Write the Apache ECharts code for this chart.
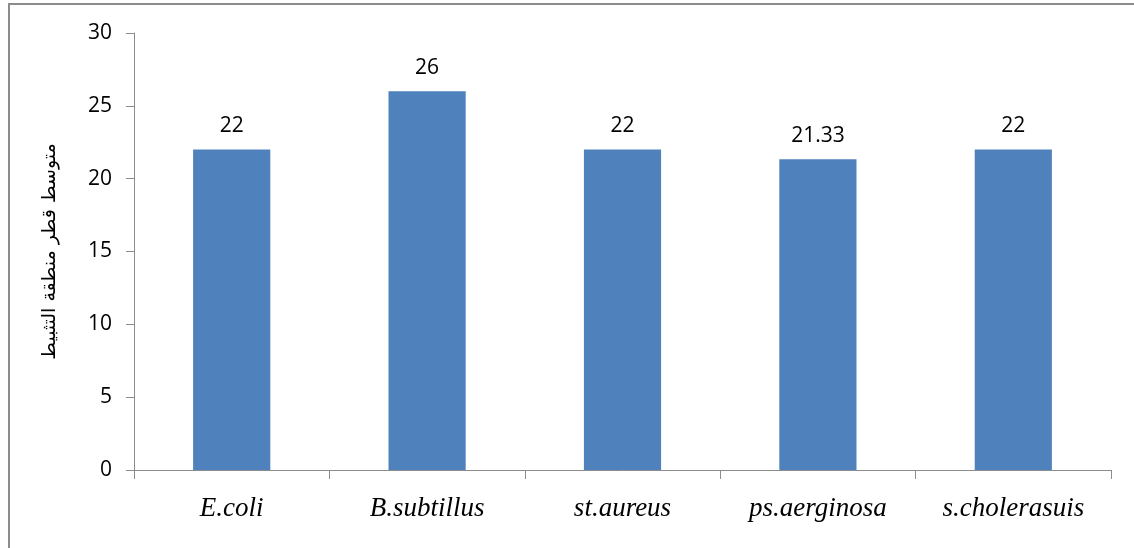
<!DOCTYPE html>
<html>
<head>
<meta charset="utf-8">
<script src="https://cdn.jsdelivr.net/npm/echarts@6/dist/echarts.min.js"></script>
<style>
  html, body { margin: 0; padding: 0; background: #fff; }
  #frame { position: absolute; left: 8px; top: 3px; width: 1140px; height: 560px; border-left: 2px solid #8c8c8c; border-top: 2px solid #8c8c8c; box-sizing: border-box; }
  #chart { position: absolute; left: 0; top: 0; width: 1134px; height: 548px; }
</style>
</head>
<body>
<div id="frame"></div>
<div id="chart"></div>
<script>
// Bacterial strains and mean inhibition-zone diameters
const categories = ['E.coli', 'B.subtillus', 'st.aureus', 'ps.aerginosa', 's.cholerasuis'];
const values = [22, 26, 22, 21.33, 22];
const yTicks = [0, 5, 10, 15, 20, 25, 30];
const yTitle = 'متوسط قطر منطقة التثبيط';

const chart = echarts.init(document.getElementById('chart'), null, { renderer: 'canvas' });
const axisGrey = '#8c8c8c';

chart.setOption({
  animation: false,
  grid: { left: 134, right: 23, top: 33, bottom: 78, containLabel: false },
  xAxis: {
    type: 'category',
    data: categories,
    boundaryGap: true,
    axisLine: { lineStyle: { color: axisGrey, width: 1 } },
    axisTick: { show: true, alignWithLabel: false, length: 9, lineStyle: { color: axisGrey } },
    axisLabel: {
      color: '#000', fontFamily: 'Liberation Serif', fontStyle: 'italic', fontSize: 27, margin: 25
    }
  },
  yAxis: {
    type: 'value',
    min: yTicks[0],
    max: yTicks[yTicks.length - 1],
    interval: 5,
    name: yTitle,
    nameLocation: 'middle',
    nameRotate: 90,
    nameGap: 74,
    nameTextStyle: { color: '#000', fontFamily: 'DejaVu Sans', fontSize: 19 },
    axisLine: { show: true, lineStyle: { color: axisGrey, width: 1 } },
    axisTick: { show: true, length: 8, lineStyle: { color: axisGrey } },
    splitLine: { show: false },
    axisLabel: { color: '#000', fontFamily: 'Open Sans', fontSize: 21, margin: 22 }
  },
  series: [{
    type: 'bar',
    data: values,
    barWidth: '39.5%',
    itemStyle: { color: '#4F81BD' },
    label: {
      show: true,
      position: 'top',
      distance: 13,
      color: '#000',
      fontFamily: 'Open Sans',
      fontSize: 21,
      formatter: p => String(p.value)
    }
  }]
});
</script>
</body>
</html>
